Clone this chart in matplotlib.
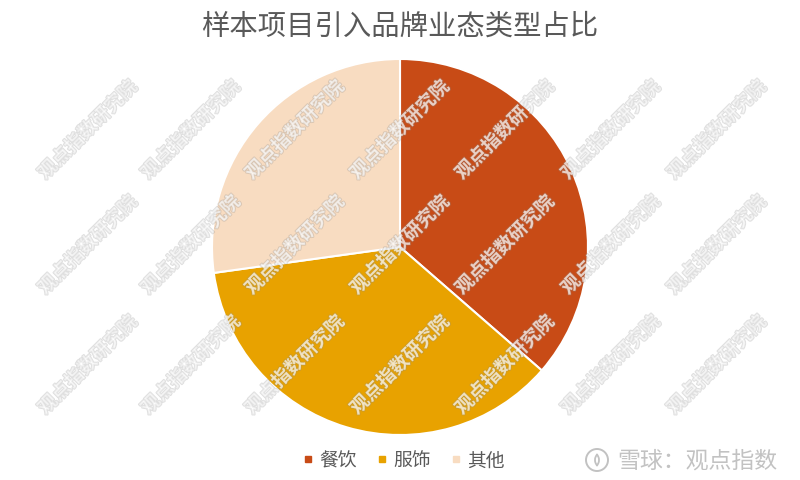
import matplotlib
matplotlib.use('Agg')
import matplotlib.pyplot as plt
import matplotlib.patheffects as pe
from matplotlib.lines import Line2D
from matplotlib.patches import Circle, Arc

plt.rcParams['font.family'] = ['Noto Sans CJK SC', 'DejaVu Sans']

# share of brand categories
categories = ["餐饮", "服饰", "其他"]
shares = [36.4, 36.4, 27.2]
colors = ["#C84B16", "#E8A200", "#F8DCC1"]

title = "样本项目引入品牌业态类型占比"
watermark = "观点指数研究院"
credit = "雪球：观点指数"

W, H = 800, 481
fig = plt.figure(figsize=(W / 100, H / 100), dpi=100)
fig.patch.set_facecolor("white")

# pie: centre (400, 248) px from top, radius 188 px
cx, cy, r = 400, 248, 188
ax = fig.add_axes([(cx - r) / W, (H - cy - r) / H, 2 * r / W, 2 * r / H])
ax.pie(shares, colors=colors, startangle=90, counterclock=False,
       radius=1.0, wedgeprops=dict(edgecolor="white", linewidth=1.5))
ax.set_xlim(-1.0, 1.0)
ax.set_ylim(-1.0, 1.0)
ax.set_aspect("equal")
ax.axis("off")

fig.text(400 / W, 1 - 27 / H, title, ha="center", va="center",
         fontsize=20.4, color="#595959")

# legend under the pie
handles = [Line2D([0], [0], marker="s", linestyle="none", markersize=5,
                  markerfacecolor=c, markeredgecolor=c) for c in colors]
fig.legend(handles, categories, loc="center", bbox_to_anchor=(404 / W, 1 - 461 / H),
           ncol=3, frameon=False, fontsize=13.5, labelcolor="#595959",
           handlelength=0.5, handletextpad=0.35, columnspacing=1.1)

# repeated watermark grid
ov = fig.add_axes([0, 0, 1, 1], facecolor="none")
ov.set_xlim(0, W)
ov.set_ylim(H, 0)
ov.axis("off")
for x in [88, 191, 295, 400, 505, 611, 717]:
    for y in [131, 246, 366]:
        ov.text(x, y, watermark, rotation=45, ha="center", va="center",
                fontsize=13.5, fontweight="bold", color=(1, 1, 1, 0.5),
                path_effects=[pe.withStroke(linewidth=1.3,
                                            foreground=(0.55, 0.55, 0.55, 0.28))])

# xueqiu credit bottom right
ov.add_patch(Circle((597, 461), 11, fill=False, edgecolor="#c2c2c2", linewidth=1.4))
ov.add_patch(Arc((593, 461), 12, 14, theta1=-60, theta2=60, edgecolor="#c2c2c2", linewidth=1.3))
ov.add_patch(Arc((601, 461), 12, 14, theta1=120, theta2=240, edgecolor="#c2c2c2", linewidth=1.3))
ov.text(617, 461, credit, ha="left", va="center", fontsize=16.5, color="#c2c2c2")

fig.savefig("out.png", dpi=100, facecolor="white")
